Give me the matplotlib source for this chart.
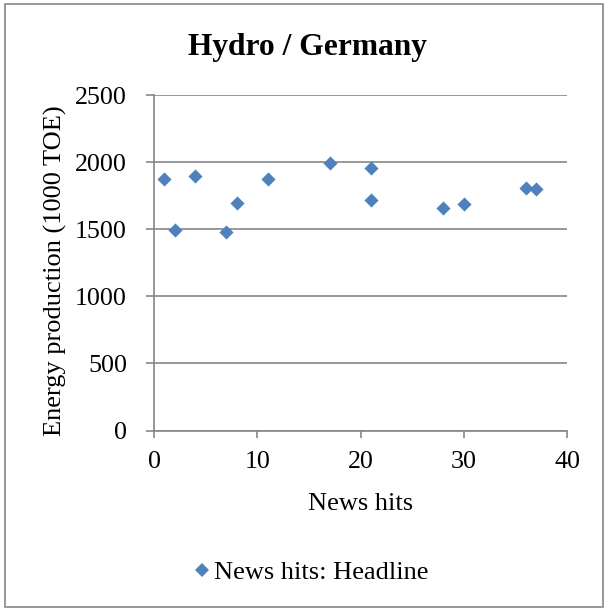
import matplotlib
matplotlib.use("Agg")
import matplotlib.pyplot as plt
from matplotlib.patches import Rectangle
from matplotlib.lines import Line2D

plt.rcParams['font.family'] = ['Liberation Serif', 'DejaVu Serif']

news_hits = [1, 2, 4, 7, 8, 11, 17, 21, 21, 28, 30, 36, 37]
energy = [1877, 1496, 1894, 1481, 1693, 1875, 1996, 1957, 1715, 1658, 1690, 1810, 1802]
x_ticks = [0, 10, 20, 30, 40]
y_ticks = [0, 500, 1000, 1500, 2000, 2500]

grid_col = '#868686'
marker_col = '#4F81BD'
W, H = 604, 608

fig = plt.figure(figsize=(W / 100, H / 100), dpi=100)
fig.patches.append(Rectangle((4.5 / W, 1 - 607 / H), 598 / W, 603 / H,
                             transform=fig.transFigure, fill=False,
                             edgecolor=grid_col, linewidth=1.2))

ax_l, ax_r, ax_t, ax_b = 154, 567.3, 95, 430.5
ax = fig.add_axes([ax_l / W, 1 - ax_b / H, (ax_r - ax_l) / W, (ax_b - ax_t) / H])
ax.scatter(news_hits, energy, marker='D', s=52, color=marker_col, zorder=3,
           linewidths=0)
ax.set_xlim(0, 40)
ax.set_ylim(0, 2500)
ax.set_xticks(x_ticks)
ax.set_yticks(y_ticks)
ax.yaxis.grid(True, color=grid_col, linewidth=1.2)
ax.set_axisbelow(True)
for s in ['top', 'right']:
    ax.spines[s].set_visible(False)
for s in ['left', 'bottom']:
    ax.spines[s].set_color(grid_col)
    ax.spines[s].set_linewidth(1.2)
ax.tick_params(axis='both', colors=grid_col, labelcolor='black', labelsize=18.7,
               length=5, width=1.2, direction='out')
ax.tick_params(axis='x', pad=10)
ax.tick_params(axis='y', length=6, pad=13.5)

ax.set_xlabel('News hits', fontsize=19)
ax.set_ylabel('Energy production (1000 TOE)', fontsize=19)
ax.xaxis.set_label_coords(0.5, (ax_b - 493) / (ax_b - ax_t))
# rotated label: the given x is the right-hand edge of the text
ax.yaxis.set_label_coords((67 - ax_l) / (ax_r - ax_l), (ax_b - 271) / (ax_b - ax_t))

fig.text(307 / W, 1 - 55 / H, 'Hydro / Germany', ha='center',
         va='baseline', fontsize=22.7, fontweight='bold')

handle = Line2D([], [], linestyle='none', marker='D', markersize=7,
                color=marker_col, markeredgewidth=0)
fig.legend([handle], ['News hits: Headline'], loc='center',
           bbox_to_anchor=(312 / W, 1 - 572 / H), frameon=False,
           fontsize=19, handlelength=0.5, handletextpad=0.2)

fig.savefig('out.png', dpi=100, facecolor='white')
